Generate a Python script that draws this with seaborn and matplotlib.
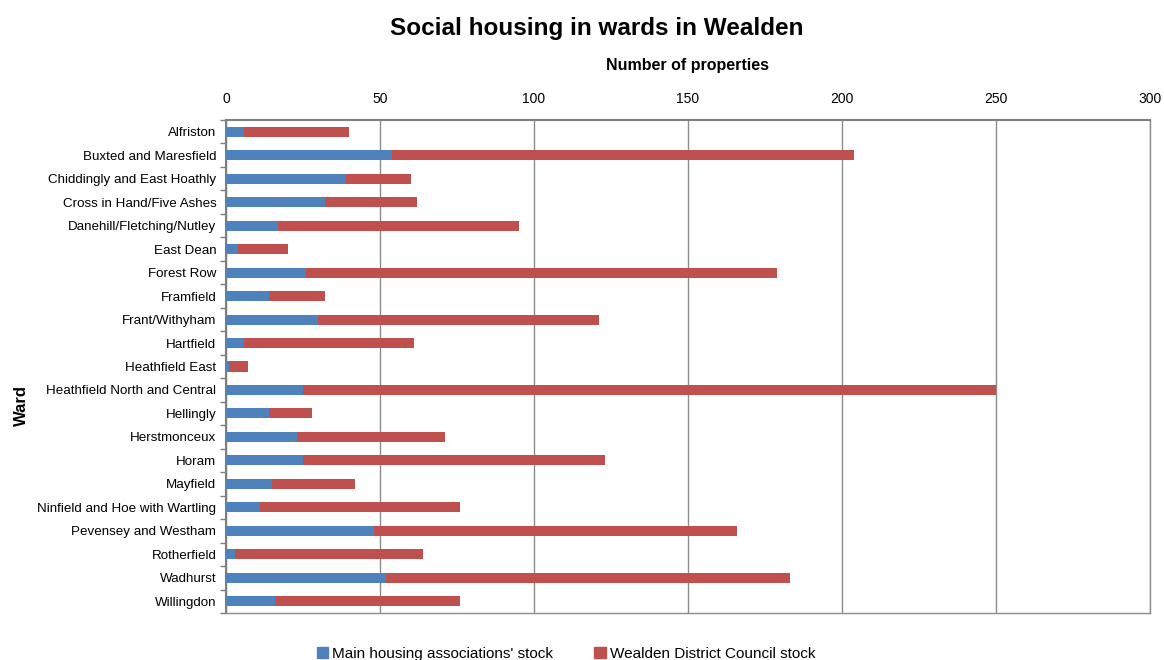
import matplotlib
matplotlib.use("Agg")
import matplotlib.pyplot as plt
import seaborn as sns
import pandas as pd
import numpy as np
from matplotlib.patches import Patch

wards = ["Alfriston", "Buxted and Maresfield", "Chiddingly and East Hoathly",
         "Cross in Hand/Five Ashes", "Danehill/Fletching/Nutley", "East Dean",
         "Forest Row", "Framfield", "Frant/Withyham", "Hartfield", "Heathfield East",
         "Heathfield North and Central", "Hellingly", "Herstmonceux", "Horam",
         "Mayfield", "Ninfield and Hoe with Wartling", "Pevensey and Westham",
         "Rotherfield", "Wadhurst", "Willingdon"]
housing_assoc = [6, 54, 39, 32, 17, 4, 26, 14, 30, 6, 1, 25, 14, 23, 25, 15, 11, 48, 3, 52, 16]
council = [34, 150, 21, 30, 78, 16, 153, 18, 91, 55, 6, 225, 14, 48, 98, 27, 65, 118, 61, 131, 60]
x_ticks = [0, 50, 100, 150, 200, 250, 300]

BLUE = "#4F81BD"
RED = "#C0504D"

sns.set_theme(style="white")
plt.rcParams['font.family'] = ['Liberation Sans', 'DejaVu Sans']
plt.rcParams['text.color'] = 'black'
plt.rcParams['axes.labelcolor'] = 'black'
plt.rcParams['xtick.color'] = 'black'
plt.rcParams['ytick.color'] = 'black'

df = pd.DataFrame({"Ward": wards, "housing": housing_assoc, "council": council})
df["total"] = df["housing"] + df["council"]

fig = plt.figure(figsize=(11.64, 6.60), dpi=100)
ax = fig.add_axes([226/1164, 1 - 613/660, (1150-226)/1164, (613-120)/660])

sns.barplot(data=df, y="Ward", x="total", color=RED, orient="h", width=0.43,
            saturation=1, linewidth=0, ax=ax, zorder=3)
sns.barplot(data=df, y="Ward", x="housing", color=BLUE, orient="h", width=0.43,
            saturation=1, linewidth=0, ax=ax, zorder=4)

ax.set_xlim(0, 300)
ax.set_ylim(len(wards) - 0.5, -0.5)
ax.set_xticks(x_ticks)
ax.xaxis.tick_top()
ax.xaxis.set_label_position("top")
ax.tick_params(axis="x", which="both", top=False, bottom=False, labelsize=10, pad=4,
               labelcolor="black")
ax.tick_params(axis="y", labelsize=9.6, length=0, pad=7, labelcolor="black")
ax.grid(axis="x", color="#8c8c8c", linewidth=1, zorder=0)
ax.set_axisbelow(True)
for s in ax.spines.values():
    s.set_visible(True)
    s.set_color("#8c8c8c")
    s.set_linewidth(1)
ax.spines["left"].set_color("#7f7f7f")
ax.spines["left"].set_linewidth(1.5)
ax.spines["top"].set_color("#7f7f7f")
ax.spines["top"].set_linewidth(1.5)

# Excel-style minor ticks between categories on the left axis
ax.set_yticks(np.arange(-0.5, len(wards), 1), minor=True)
ax.tick_params(axis="y", which="minor", length=4, width=1, color="#7f7f7f", left=True)

ax.set_xlabel("Number of properties", fontsize=11.5, fontweight="bold", labelpad=16,
              color="black")
ax.set_ylabel("Ward", fontsize=12, fontweight="bold", color="black")
ax.yaxis.set_label_coords(-(226 - 29) / 924, (613 - 405) / 493)

fig.text(597/1164, 1 - 28/660, "Social housing in wards in Wealden", ha="center", va="center",
         fontsize=17.5, fontweight="bold", color="black")

handles = [Patch(color=BLUE, label="Main housing associations' stock"),
           Patch(color=RED, label="Wealden District Council stock")]
fig.legend(handles=handles, loc="center", bbox_to_anchor=(566/1164, 1 - 654/660), ncol=2,
           frameon=False, fontsize=11, handlelength=0.75, handleheight=0.75,
           handletextpad=0.25, columnspacing=2.7, labelcolor="black")

fig.savefig("out.png", dpi=100, facecolor="white")
